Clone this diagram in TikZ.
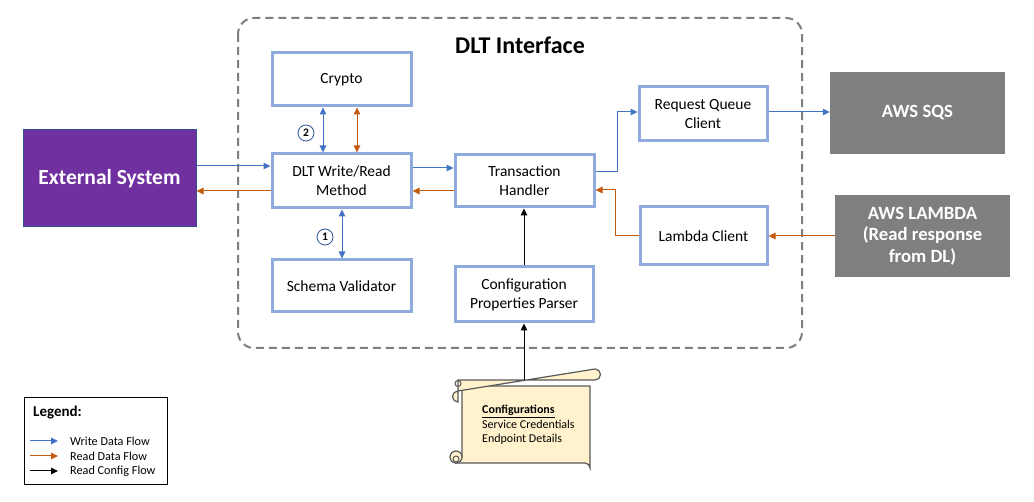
\documentclass[tikz,border=0pt]{standalone}
\usepackage{fontspec}
\setmainfont{Carlito}
\usetikzlibrary{arrows.meta,calc}
\definecolor{boxblue}{HTML}{8FAADC}
\definecolor{wblue}{HTML}{4472C4}
\definecolor{rorange}{HTML}{C55A11}
\definecolor{extpurple}{HTML}{7030A0}
\definecolor{extborder}{HTML}{2F528F}
\definecolor{awsgray}{HTML}{7F7F7F}
\definecolor{dashgray}{HTML}{7F7F7F}
\definecolor{scrollfill}{HTML}{FFF2CC}
\definecolor{scrollline}{HTML}{595959}
\definecolor{circblue}{HTML}{2F5597}
\tikzset{
  compbox/.style={draw=boxblue, line width=3pt, fill=white, align=center, inner sep=0pt,
    font=\fontsize{15.5}{19}\selectfont},
  extbox/.style={draw=extborder, line width=1pt, fill=extpurple, text=white, align=center,
    font=\fontsize{21.5}{25}\selectfont\bfseries, inner sep=0pt},
  awsbox/.style={fill=awsgray, text=white, align=center, inner sep=0pt,
    font=\fontsize{18.7}{21.5}\selectfont\bfseries},
  wflow/.style={draw=wblue, line width=1pt, -{Triangle[length=7pt,width=6.5pt]}},
  wboth/.style={draw=wblue, line width=1pt, {Triangle[length=7pt,width=6.5pt]}-{Triangle[length=7pt,width=6.5pt]}},
  rflow/.style={draw=rorange, line width=1pt, -{Triangle[length=7pt,width=6.5pt]}},
  rboth/.style={draw=rorange, line width=1pt, {Triangle[length=7pt,width=6.5pt]}-{Triangle[length=7pt,width=6.5pt]}},
  cflow/.style={draw=black, line width=1pt, -{Triangle[length=7pt,width=6.5pt]}},
  numcirc/.style={circle, draw=circblue, line width=0.8pt, minimum size=16pt, inner sep=0pt,
    font=\fontsize{11.5}{13}\selectfont\bfseries},
  legtext/.style={anchor=west, inner sep=0pt, font=\fontsize{12.2}{14}\selectfont},
  scroll/.style={draw=scrollline, line width=1.2pt, fill=scrollfill},
}
\begin{document}
\begin{tikzpicture}[x=1pt,y=-1pt]
\useasboundingbox (0,0) rectangle (1034,502);
\fill[white] (0,0) rectangle (1034,502);

% DLT interface container
\draw[dashgray, line width=2pt, dash pattern=on 8pt off 5pt, rounded corners=16pt]
  (238,18) rectangle (802,348);
\node[font=\fontsize{24}{28}\selectfont\bfseries] (title) at (520,45) {DLT Interface};

% components
\node[compbox, minimum width=139pt, minimum height=53pt] (crypto) at (341.5,79.5) {Crypto};
\node[compbox, minimum width=139pt, minimum height=54pt] (dlt) at (341.5,181) {DLT Write/Read\\Method};
\node[compbox, minimum width=139pt, minimum height=52pt] (schema) at (341.5,286) {Schema Validator};
\node[compbox, minimum width=139pt, minimum height=52pt] (th) at (524.5,181) {Transaction\\Handler};
\node[compbox, minimum width=138pt, minimum height=55pt] (cpp) at (524,294.5) {Configuration\\Properties Parser};
\node[compbox, minimum width=128pt, minimum height=54pt] (rqc) at (703,114) {Request Queue\\Client};
\node[compbox, minimum width=127pt, minimum height=58pt] (lc) at (703.5,236) {Lambda Client};

% external
\node[extbox, minimum width=173pt, minimum height=97pt] (ext) at (109.5,178.5) {External System};
\node[awsbox, minimum width=175pt, minimum height=82pt] (sqs) at (917.5,113) {AWS SQS};
\node[awsbox, minimum width=175pt, minimum height=82pt] (lam) at (922.5,236) {AWS LAMBDA\\(Read response\\from DL)};

% helper coordinates
\coordinate (h166) at (0,166);
\coordinate (h168) at (0,168);
\coordinate (h191) at (0,191);
\coordinate (h190) at (0,190);
\coordinate (h172) at (0,172);
\coordinate (h112) at (0,112);
\coordinate (h236) at (0,236);
\coordinate (v323) at (323,0);
\coordinate (v357) at (357,0);
\coordinate (v342) at (342,0);
\coordinate (v524) at (524,0);

% connectors
\draw[wflow] (ext.east |- h166) -- (dlt.west |- h166);
\draw[rflow] (dlt.west |- h191) -- (ext.east |- h191);
\draw[wflow] (dlt.east |- h168) -- (th.west |- h168);
\draw[rflow] (th.west |- h191) -- (dlt.east |- h191);
\draw[wboth] (crypto.south -| v323) -- (dlt.north -| v323);
\draw[rboth] (crypto.south -| v357) -- (dlt.north -| v357);
\draw[wboth] (dlt.south -| v342) -- (schema.north -| v342);
\draw[wflow] (th.east |- h172) -- ++(22,0) |- (rqc.west |- h112);
\draw[wflow] (rqc.east |- h112) -- (sqs.west |- h112);
\draw[rflow] (lc.west |- h236) -- ++(-23,0) |- (th.east |- h190);
\draw[rflow] (lam.west |- h236) -- (lc.east |- h236);
\draw[cflow] (cpp.north -| v524) -- (th.south -| v524);

% number markers
\node[numcirc] (n2) at (306,133) {2};
\node[numcirc] (n1) at (325,237) {1};

% scroll
\draw[scroll] (462,386) -- (462,457) -- (456,463) -- (585,463)
  arc[start angle=90, end angle=0, radius=5pt] -- (590,386) -- cycle;
\draw[scroll] (456,457) circle[radius=6pt];
\draw[scrollline, line width=1pt] (456,459) circle[radius=3pt];
\draw[scroll] (458,380) -- (595,380) arc[start angle=-90, end angle=90, radius=5.5pt]
  -- (458,391) arc[start angle=90, end angle=270, radius=5.5pt] -- cycle;
\draw[scrollline, line width=1pt] (458,383.5) circle[radius=3pt];
\coordinate (scrolltop) at (524,380);
\node[anchor=north west, align=left, inner sep=0pt, font=\fontsize{12}{14.5}\selectfont] (cfg) at (482,405)
  {\textbf{\underline{Configurations}}\\Service Credentials\\Endpoint Details};
\draw[cflow] (scrolltop) -- (cpp.south -| v524);

% legend
\node[draw=black, line width=1pt, minimum width=143pt, minimum height=87pt, inner sep=0pt] (legend) at (95.5,441.5) {};
\node[anchor=west, inner sep=0pt, font=\fontsize{15}{18}\selectfont\bfseries] (legtitle) at (33,413) {Legend:};
\coordinate (la1) at (30,441);
\coordinate (lb1) at (58,441);
\coordinate (la2) at (30,456);
\coordinate (lb2) at (58,456);
\coordinate (la3) at (30,471);
\coordinate (lb3) at (58,471);
\draw[wflow] (la1) -- (lb1);
\draw[rflow] (la2) -- (lb2);
\draw[cflow] (la3) -- (lb3);
\node[legtext] (l1) at (70,441) {Write Data Flow};
\node[legtext] (l2) at (70,456) {Read Data Flow};
\node[legtext] (l3) at (70,471) {Read Config Flow};
\end{tikzpicture}
\end{document}
